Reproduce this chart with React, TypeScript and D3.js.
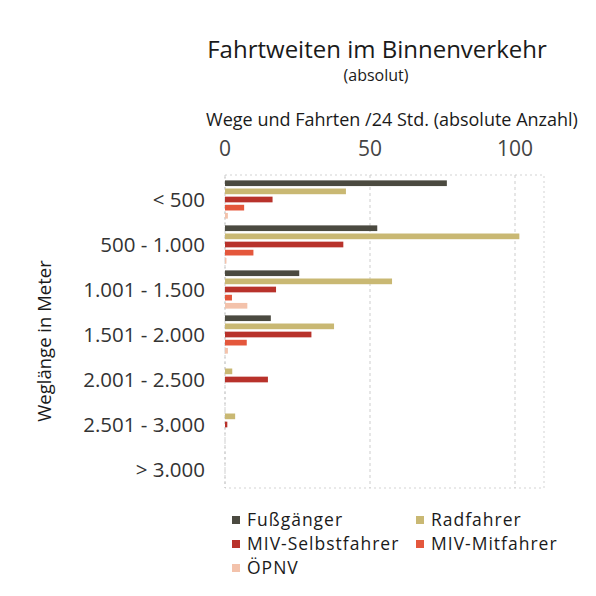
import React from 'react';
import * as d3 from 'd3';

const categories = ['< 500', '500 - 1.000', '1.001 - 1.500', '1.501 - 2.000', '2.001 - 2.500', '2.501 - 3.000', '> 3.000'];
const seriesNames = ['Fußgänger', 'Radfahrer', 'MIV-Selbstfahrer', 'MIV-Mitfahrer', 'ÖPNV'];
const seriesColors = ['#4b4a40', '#c9b873', '#b8322b', '#e4573c', '#f3c2ab'];
const fussgaenger = [76.5, 52.5, 25.6, 15.8, 0, 0, 0];
const radfahrer = [41.7, 101.5, 57.6, 37.6, 2.5, 3.5, 0];
const mivSelbst = [16.4, 40.8, 17.6, 29.8, 14.8, 0.8, 0];
const mivMit = [6.6, 9.8, 2.4, 7.5, 0, 0, 0];
const oepnv = [1, 0.5, 7.7, 1, 0, 0, 0];
const xTicks = [0, 50, 100];

const seriesValues = [fussgaenger, radfahrer, mivSelbst, mivMit, oepnv];
const font = "'Open Sans', 'DejaVu Sans', sans-serif";

const App: React.FC = () => {
  const width = 596;
  const height = 596;
  const left = 225, right = 544, top = 177, bottom = 492;

  const x = d3.scaleLinear().domain([0, 110]).range([left, right]);
  const y = d3.scaleBand<string>().domain(categories).range([top, bottom]).paddingInner(0.15).paddingOuter(0.075);
  const inner = d3.scaleBand<string>().domain(seriesNames).range([0, y.bandwidth()]).paddingInner(0.3);

  const legendPos = [
    { x: 232, y: 526 }, { x: 416, y: 526 },
    { x: 232, y: 550 }, { x: 416, y: 550 },
    { x: 232, y: 574 },
  ];

  return (
    <svg width={width} height={height} style={{ position: 'absolute', left: 0, top: 0, background: '#fff' }}>
      <text x={377} y={58} textAnchor="middle" fontFamily={font} fontSize={24} fill="#1a1a1a">Fahrtweiten im Binnenverkehr</text>
      <text x={376} y={81} textAnchor="middle" fontFamily={font} fontSize={16} fill="#1a1a1a">(absolut)</text>
      <text x={392} y={126} textAnchor="middle" fontFamily={font} fontSize={18} fill="#1a1a1a">Wege und Fahrten /24 Std. (absolute Anzahl)</text>

      {xTicks.map(t => (
        <text key={t} x={x(t)} y={156} textAnchor="middle" fontFamily={font} fontSize={21} fill="#444">{t}</text>
      ))}

      {/* dotted frame and grid */}
      <rect x={left} y={top - 2} width={right - left} height={bottom - top - 2} fill="none" stroke="#c8c8c8" strokeWidth={0.8} strokeDasharray="2,3" />
      {xTicks.map(t => (
        <line key={'g' + t} x1={x(t)} x2={x(t)} y1={top - 2} y2={bottom - 4} stroke="#c0c0c0" strokeWidth={0.8} strokeDasharray="3,3" />
      ))}

      {categories.map((c, i) => (
        <g key={c}>
          <text x={205} y={(y(c) ?? 0) + y.bandwidth() / 2 + 7} textAnchor="end" fontFamily={font} fontSize={20.5} fill="#333">{c}</text>
          {seriesNames.map((s, j) => {
            const v = seriesValues[j][i];
            if (!v) return null;
            return (
              <rect key={s} x={x(0)} y={(y(c) ?? 0) + (inner(s) ?? 0)} width={x(v) - x(0)} height={inner.bandwidth()} fill={seriesColors[j]} />
            );
          })}
        </g>
      ))}

      <text transform={`translate(51,341) rotate(-90)`} textAnchor="middle" fontFamily={font} fontSize={18.5} fill="#1a1a1a">Weglänge in Meter</text>

      {seriesNames.map((s, j) => (
        <g key={'l' + s}>
          <rect x={legendPos[j].x} y={legendPos[j].y - 10} width={8} height={8} fill={seriesColors[j]} />
          <text x={legendPos[j].x + 15} y={legendPos[j].y} fontFamily={font} fontSize={17.5} letterSpacing={1} fill="#1a1a1a">{s}</text>
        </g>
      ))}
    </svg>
  );
};

export default App;
